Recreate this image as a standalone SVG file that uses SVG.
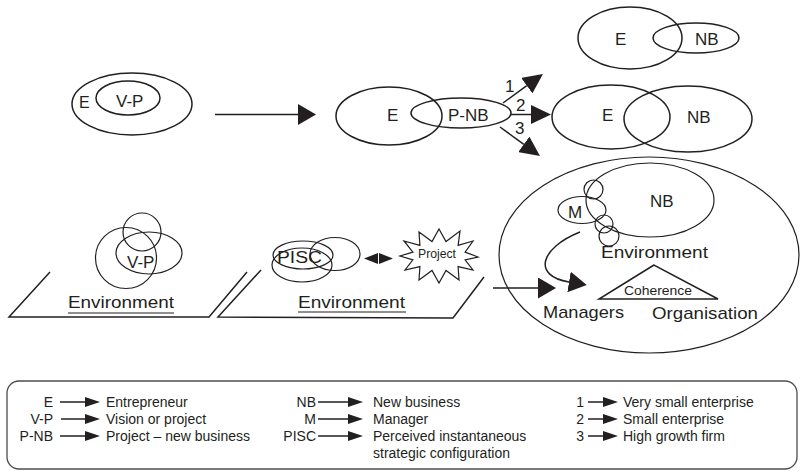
<svg xmlns="http://www.w3.org/2000/svg" width="800" height="471" viewBox="0 0 800 471">
  <defs>
    <style>
      .ln { fill: none; stroke: #231f20; stroke-width: 1.5; }
      .thin { fill: none; stroke: #231f20; stroke-width: 1.2; }
      .txt { font-family: "Liberation Sans", Arial, sans-serif; fill: #231f20; }
      .lbl { font-size: 17px; }
      .big { font-size: 17px; }
      .leg { font-size: 14px; }
      .ul { stroke: #231f20; stroke-width: 1.2; }
    </style>
    <marker id="head-lg" viewBox="0 0 18 21" markerWidth="18" markerHeight="21" refX="0" refY="10.5" orient="auto" markerUnits="userSpaceOnUse">
      <path d="M0,0 L18,10.5 L0,21 z" fill="#231f20"/>
    </marker>
    <marker id="head-md" viewBox="0 0 20 19" markerWidth="20" markerHeight="19" refX="0" refY="9.5" orient="auto" markerUnits="userSpaceOnUse">
      <path d="M0,0 L20,9.5 L0,19 z" fill="#231f20"/>
    </marker>
    <marker id="head-sm" viewBox="0 0 15 10" markerWidth="15" markerHeight="10" refX="0" refY="5" orient="auto" markerUnits="userSpaceOnUse">
      <path d="M0,0 L15,5 L0,10 z" fill="#231f20"/>
    </marker>
  </defs>

  <rect width="800" height="471" fill="#ffffff"/>

  <!-- Stage 1: entrepreneur holding a vision/project -->
  <g id="stage-vision">
    <ellipse class="ln" cx="132" cy="104" rx="60" ry="31"/>
    <ellipse class="ln" cx="128" cy="98" rx="32" ry="17"/>
    <text class="txt" x="79" y="108" font-size="16">E</text>
    <text class="txt lbl" x="116" y="107">V-P</text>
  </g>

  <!-- Stage 2: project becoming a new business -->
  <g id="stage-pnb">
    <ellipse class="ln" cx="389" cy="116" rx="53" ry="29"/>
    <ellipse class="ln" cx="461" cy="113" rx="50" ry="15"/>
    <text class="txt lbl" x="387" y="121">E</text>
    <text class="txt lbl" x="448" y="121">P-NB</text>
  </g>

  <!-- Outcome 1: very small enterprise -->
  <g id="outcome-small">
    <ellipse class="ln" cx="630" cy="38" rx="52" ry="31"/>
    <ellipse class="ln" cx="696" cy="38" rx="43" ry="15"/>
    <text class="txt lbl" x="615" y="45">E</text>
    <text class="txt lbl" x="695" y="45">NB</text>
  </g>

  <!-- Outcome 2: small enterprise -->
  <g id="outcome-medium">
    <ellipse class="ln" cx="611" cy="117" rx="59" ry="32"/>
    <ellipse class="ln" cx="688" cy="119" rx="64" ry="33"/>
    <text class="txt lbl" x="602" y="121">E</text>
    <text class="txt lbl" x="687" y="123">NB</text>
  </g>

  <!-- Vision inside its environment -->
  <g id="env-vision">
    <path class="ln" d="M50,272 L9,317 L209,317 L247,272"/>
    <circle class="thin" cx="126" cy="258" r="30.5"/>
    <circle class="thin" cx="142" cy="232" r="19"/>
    <ellipse class="thin" cx="149" cy="253" rx="33" ry="21"/>
    <text class="txt lbl" x="127" y="268">V-P</text>
    <text class="txt big" x="68" y="308" textLength="106" lengthAdjust="spacingAndGlyphs">Environment</text>
    <line class="ul" x1="68" y1="313" x2="174" y2="313"/>
  </g>

  <!-- Perceived configuration and project inside environment -->
  <g id="env-pisc">
    <path class="ln" d="M261,270 L218,317 L453,318 L484,277"/>
    <ellipse class="thin" cx="303" cy="255" rx="30" ry="14"/>
    <ellipse class="thin" cx="302" cy="265" rx="30" ry="17"/>
    <ellipse class="thin" cx="335" cy="254" rx="25" ry="16.5"/>
    <text class="txt" x="277" y="263" font-size="16" textLength="45" lengthAdjust="spacingAndGlyphs">PISC</text>
    <text class="txt big" x="298" y="308" textLength="107" lengthAdjust="spacingAndGlyphs">Environment</text>
    <line class="ul" x1="298" y1="312" x2="406" y2="312"/>
  </g>

  <g id="project-burst">
    <polygon class="thin" points="478,257 465.1,252.1 473,241 458.1,245.4 460,231 446,241.5 439,229 432,241.5 419,232 419.9,245.4 404,241 412.9,252.1 400,256 412.9,259.9 405,270 419.9,266.6 419,280 432,270.5 439,283 446,270.5 459,280 458.1,266.6 473,270 465.1,259.9"/>
    <text class="txt" x="418" y="258" font-size="12" textLength="38" lengthAdjust="spacingAndGlyphs">Project</text>
  </g>

  <!-- New business with managers, environment and organisation -->
  <g id="stage-organisation">
    <ellipse class="thin" cx="649" cy="255" rx="150" ry="98"/>
    <ellipse class="thin" cx="650" cy="200" rx="64" ry="37"/>
    <ellipse class="thin" cx="582" cy="210" rx="24" ry="13.5"/>
    <circle class="thin" cx="593.5" cy="189.5" r="9.5"/>
    <circle class="thin" cx="604" cy="224" r="9"/>
    <circle class="thin" cx="609" cy="236" r="10"/>
    <text class="txt lbl" x="650" y="207">NB</text>
    <text class="txt lbl" x="568" y="218">M</text>
    <text class="txt big" x="601" y="258" textLength="107" lengthAdjust="spacingAndGlyphs">Environment</text>
    <polygon class="ln" points="654,265 599,299 718,299"/>
    <text class="txt" x="624" y="295" font-size="13" textLength="68" lengthAdjust="spacingAndGlyphs">Coherence</text>
    <text class="txt big" x="543" y="318" textLength="81" lengthAdjust="spacingAndGlyphs">Managers</text>
    <text class="txt big" x="652" y="319" textLength="106" lengthAdjust="spacingAndGlyphs">Organisation</text>
  </g>

  <!-- Connectors -->
  <g id="connectors">
    <line class="ln" x1="215" y1="114.5" x2="298" y2="114.5" stroke-width="2" marker-end="url(#head-lg)"/>
    <line class="ln" x1="503" y1="103" x2="526.8" y2="85.7" stroke-width="2" marker-end="url(#head-md)"/>
    <line class="ln" x1="511" y1="114.5" x2="531" y2="114.5" stroke-width="2" marker-end="url(#head-md)"/>
    <line class="ln" x1="500" y1="127" x2="523.8" y2="144.3" stroke-width="2" marker-end="url(#head-md)"/>
    <line class="ln" x1="493" y1="288" x2="538" y2="288" stroke-width="2" marker-end="url(#head-lg)"/>
    <path class="ln" d="M580,232 C540,248 532,276 569,282" stroke-width="2.6" marker-end="url(#head-lg)"/>
    <polygon points="364,258.5 378,253 378,264" fill="#231f20"/>
    <polygon points="393,258.5 379,253 379,264" fill="#231f20"/>
    <text class="txt lbl" x="505" y="92">1</text>
    <text class="txt lbl" x="516" y="111">2</text>
    <text class="txt lbl" x="515" y="134">3</text>
  </g>

  <!-- Key -->
  <g id="legend">
    <rect x="7" y="381" width="790" height="88" rx="12" ry="12" fill="none" stroke="#4d4d4d" stroke-width="1.3"/>
    <g class="txt leg" text-anchor="end">
      <text x="53" y="407">E</text>
      <text x="53" y="424">V-P</text>
      <text x="53" y="441">P-NB</text>
      <text x="316" y="407">NB</text>
      <text x="316" y="424">M</text>
      <text x="316" y="441">PISC</text>
      <text x="584" y="407">1</text>
      <text x="584" y="424">2</text>
      <text x="584" y="441">3</text>
    </g>
    <g class="ln" stroke-width="1.5">
      <line x1="60" y1="402" x2="85" y2="402" marker-end="url(#head-sm)"/>
      <line x1="61" y1="419" x2="85" y2="419" marker-end="url(#head-sm)"/>
      <line x1="60" y1="436" x2="85" y2="436" marker-end="url(#head-sm)"/>
      <line x1="318" y1="402" x2="348" y2="402" marker-end="url(#head-sm)"/>
      <line x1="318" y1="419" x2="348" y2="419" marker-end="url(#head-sm)"/>
      <line x1="318" y1="436" x2="348" y2="436" marker-end="url(#head-sm)"/>
      <line x1="588" y1="402" x2="603" y2="402" marker-end="url(#head-sm)"/>
      <line x1="588" y1="419" x2="603" y2="419" marker-end="url(#head-sm)"/>
      <line x1="588" y1="436" x2="603" y2="436" marker-end="url(#head-sm)"/>
    </g>
    <g class="txt leg">
      <text x="106" y="407">Entrepreneur</text>
      <text x="106" y="424">Vision or project</text>
      <text x="106" y="441">Project – new business</text>
      <text x="373" y="407">New business</text>
      <text x="373" y="424">Manager</text>
      <text x="373" y="441">Perceived instantaneous</text>
      <text x="373" y="458">strategic configuration</text>
      <text x="623" y="407">Very small enterprise</text>
      <text x="623" y="424">Small enterprise</text>
      <text x="623" y="441">High growth firm</text>
    </g>
  </g>
</svg>
